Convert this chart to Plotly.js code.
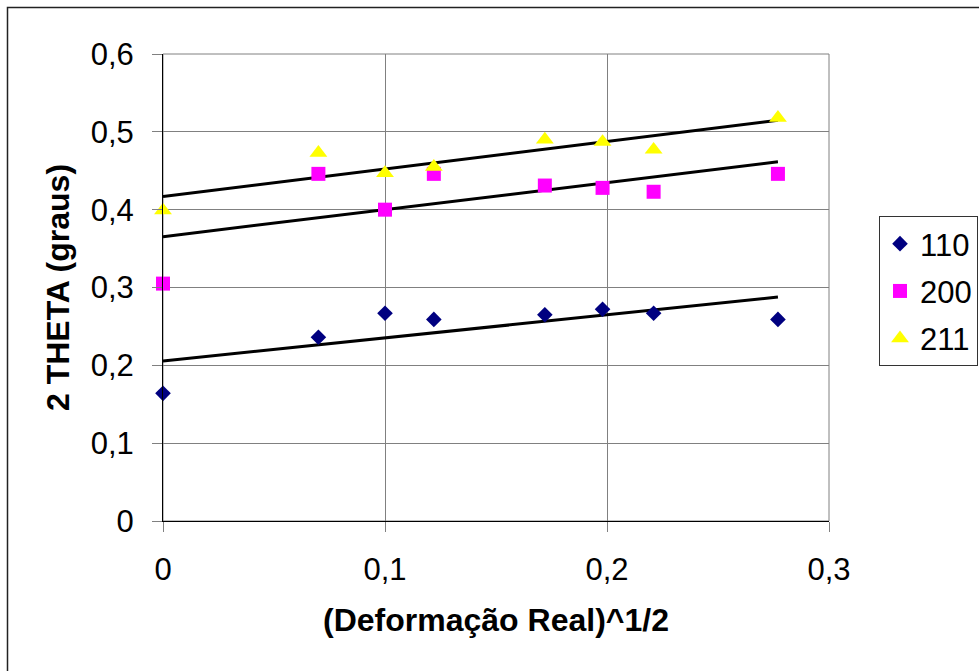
<!DOCTYPE html>
<html>
<head>
<meta charset="utf-8">
<script src="https://cdn.plot.ly/plotly-3.0.1.min.js"></script>
<style>
html,body{margin:0;padding:0;background:#fff;}
#chart{width:979px;height:671px;}
</style>
</head>
<body>
<div id="chart"></div>
<script>
// Data
const xVals = [0, 0.07, 0.1, 0.122, 0.172, 0.198, 0.221, 0.277];
const y110 = [0.164, 0.236, 0.267, 0.259, 0.265, 0.272, 0.267, 0.259];
const y200 = [0.305, 0.446, 0.400, 0.446, 0.431, 0.428, 0.423, 0.446];
const y211 = [0.399, 0.473, 0.447, 0.455, 0.490, 0.487, 0.477, 0.518];
const seriesNames = ['110', '200', '211'];
const xTitle = '(Deformação Real)^1/2';
const yTitle = '2 THETA (graus)';

// Linear least-squares trendline (like Excel's linear trendline)
function trend(x, y) {
  const n = x.length;
  const mx = x.reduce((a, b) => a + b, 0) / n;
  const my = y.reduce((a, b) => a + b, 0) / n;
  let sxy = 0, sxx = 0;
  for (let i = 0; i < n; i++) { sxy += (x[i] - mx) * (y[i] - my); sxx += (x[i] - mx) * (x[i] - mx); }
  const m = sxy / sxx, b = my - m * mx;
  const x0 = Math.min(...x), x1 = Math.max(...x);
  return { x: [x0, x1], y: [m * x0 + b, m * x1 + b] };
}

const FONT = '"Liberation Sans", Arial, sans-serif';
const styles = [
  { color: '#000080', symbol: 'diamond', size: 12 },
  { color: '#FF00FF', symbol: 'square', size: 14 },
  { color: '#FFFF00', symbol: 'triangle-up', size: 15.5 }
];
const ys = [y110, y200, y211];

const traces = [];
ys.forEach((y, i) => {
  const t = trend(xVals, y);
  traces.push({
    x: t.x, y: t.y, mode: 'lines', type: 'scatter',
    line: { color: '#000', width: 3 }, showlegend: false, hoverinfo: 'skip',
    cliponaxis: false
  });
});
ys.forEach((y, i) => {
  traces.push({
    x: xVals, y: y, mode: 'markers', type: 'scatter', name: seriesNames[i],
    legendgroup: 'g' + i, cliponaxis: false,
    marker: { color: styles[i].color, symbol: styles[i].symbol, size: styles[i].size, line: { width: 0 } }
  });
});

const L = 163, R = 150, T = 54, B = 150;
const pw = 979 - L - R, ph = 671 - T - B;

const layout = {
  width: 979, height: 671,
  margin: { l: L, r: R, t: T, b: B, pad: 0, autoexpand: false },
  paper_bgcolor: '#fff', plot_bgcolor: '#fff',
  separators: ',.',
  font: { family: FONT, color: '#000', size: 31 },
  showlegend: true,
  legend: {
    x: (879 - L) / pw, xanchor: 'left',
    y: (671 - B - 216) / ph, yanchor: 'top',
    bgcolor: '#fff', bordercolor: '#333', borderwidth: 1,
    font: { family: FONT, size: 31, color: '#000' },
    tracegroupgap: 4, traceorder: 'grouped',
    itemclick: false
  },
  xaxis: {
    range: [0, 0.3], dtick: 0.1, tick0: 0,
    showgrid: true, gridcolor: '#808080', gridwidth: 1,
    zeroline: false, showline: true, linecolor: '#000', linewidth: 1,
    ticks: 'outside', ticklen: 10, tickcolor: '#808080', tickwidth: 1,
    ticklabelstandoff: 11,
    tickfont: { family: FONT, size: 31, color: '#000' },
    title: { text: xTitle, font: { family: FONT, size: 32, color: '#000', weight: 'bold' }, standoff: 22 }
  },
  yaxis: {
    range: [0, 0.6], dtick: 0.1, tick0: 0,
    showgrid: true, gridcolor: '#808080', gridwidth: 1,
    zeroline: false, showline: true, linecolor: '#000', linewidth: 1,
    ticks: 'outside', ticklen: 10, tickcolor: '#808080', tickwidth: 1,
    ticklabelstandoff: 12,
    tickfont: { family: FONT, size: 31, color: '#000' },
    title: { text: yTitle, font: { family: FONT, size: 32, color: '#000', weight: 'bold' }, standoff: 11 }
  },
  shapes: [
    { type: 'rect', xref: 'paper', yref: 'paper', x0: 0, x1: 1, y0: 0, y1: 1,
      line: { color: '#808080', width: 1 }, layer: 'below' },
    { type: 'rect', xref: 'paper', yref: 'paper',
      x0: (7.5 - L) / pw, x1: (1000 - L) / pw,
      y0: (671 - B - 700) / ph, y1: (671 - B - 7.5) / ph,
      line: { color: '#222', width: 1.5 }, layer: 'above' }
  ]
};

Plotly.newPlot('chart', traces, layout, { staticPlot: true, displayModeBar: false });
</script>
</body>
</html>
